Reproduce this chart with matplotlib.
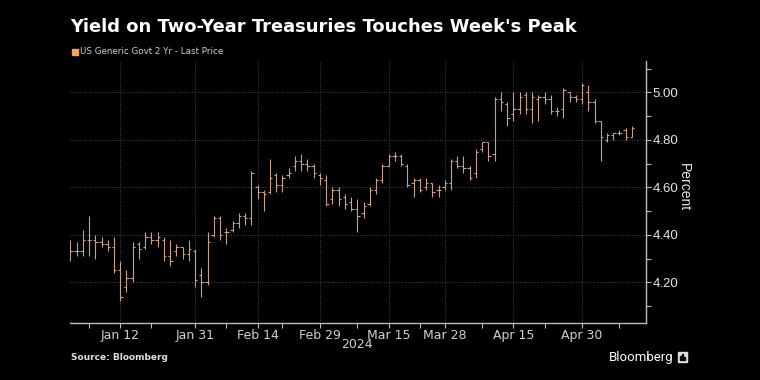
import matplotlib
matplotlib.use("Agg")
import matplotlib.pyplot as plt
from matplotlib.patches import Rectangle
import numpy as np
import pandas as pd

# trading days Jan 2 - May 10, 2024 (bond market holidays removed)
holidays = ["2024-01-15", "2024-02-19", "2024-03-29"]
dates = pd.bdate_range("2024-01-02", "2024-05-10")
dates = dates[~dates.isin(pd.to_datetime(holidays))]

opens = [4.32, 4.33, 4.33, 4.38, 4.38, 4.37, 4.36, 4.35, 4.25, 4.18,
         4.22, 4.36, 4.35, 4.39, 4.38, 4.38, 4.31, 4.33, 4.35, 4.32,
         4.33, 4.23, 4.20, 4.40, 4.47, 4.41, 4.42, 4.45, 4.48, 4.47,
         4.60, 4.58, 4.58, 4.65, 4.61, 4.65, 4.69, 4.71, 4.70, 4.69,
         4.65, 4.63, 4.55, 4.59, 4.56, 4.54, 4.51, 4.49, 4.53, 4.59,
         4.63, 4.69, 4.73, 4.73, 4.69, 4.62, 4.63, 4.60, 4.62, 4.59,
         4.60, 4.62, 4.71, 4.69, 4.68, 4.66, 4.76, 4.79, 4.74, 4.97,
         4.95, 4.91, 4.93, 4.99, 4.93, 4.97, 4.98, 4.97, 4.92, 4.93,
         5.00, 4.98, 4.97, 5.00, 4.96, 4.88, 4.80, 4.82, 4.83, 4.84,
         4.81]
highs = [4.38, 4.37, 4.42, 4.48, 4.40, 4.39, 4.38, 4.39, 4.29, 4.25,
         4.37, 4.37, 4.41, 4.41, 4.41, 4.39, 4.38, 4.36, 4.35, 4.38,
         4.34, 4.26, 4.41, 4.48, 4.48, 4.43, 4.46, 4.49, 4.49, 4.67,
         4.61, 4.59, 4.72, 4.66, 4.65, 4.68, 4.73, 4.74, 4.72, 4.70,
         4.66, 4.65, 4.60, 4.60, 4.57, 4.56, 4.55, 4.54, 4.60, 4.64,
         4.70, 4.74, 4.75, 4.74, 4.70, 4.64, 4.64, 4.64, 4.62, 4.61,
         4.63, 4.72, 4.73, 4.73, 4.69, 4.76, 4.79, 4.79, 4.98, 5.00,
         4.96, 5.00, 5.00, 5.00, 5.00, 4.99, 5.00, 4.99, 4.94, 5.02,
         5.00, 4.99, 5.04, 5.03, 4.97, 4.88, 4.83, 4.83, 4.84, 4.85,
         4.86]
lows = [4.29, 4.31, 4.31, 4.31, 4.30, 4.35, 4.33, 4.24, 4.12, 4.16,
        4.20, 4.30, 4.34, 4.36, 4.35, 4.29, 4.27, 4.31, 4.30, 4.29,
        4.18, 4.14, 4.19, 4.39, 4.38, 4.36, 4.41, 4.43, 4.44, 4.44,
        4.55, 4.50, 4.57, 4.58, 4.58, 4.64, 4.67, 4.67, 4.67, 4.64,
        4.61, 4.52, 4.53, 4.52, 4.51, 4.50, 4.41, 4.47, 4.52, 4.57,
        4.62, 4.69, 4.71, 4.69, 4.60, 4.56, 4.58, 4.59, 4.56, 4.56,
        4.59, 4.59, 4.68, 4.66, 4.63, 4.64, 4.75, 4.71, 4.71, 4.92,
        4.86, 4.88, 4.91, 4.91, 4.87, 4.88, 4.95, 4.91, 4.90, 4.89,
        4.96, 4.96, 4.95, 4.92, 4.87, 4.71, 4.79, 4.80, 4.82, 4.80,
        4.81]
closes = [4.33, 4.33, 4.38, 4.38, 4.37, 4.36, 4.35, 4.25, 4.14, 4.22,
          4.35, 4.34, 4.39, 4.38, 4.39, 4.31, 4.29, 4.35, 4.32, 4.34,
          4.21, 4.20, 4.37, 4.47, 4.40, 4.41, 4.45, 4.48, 4.47, 4.66,
          4.58, 4.57, 4.64, 4.61, 4.64, 4.66, 4.71, 4.70, 4.69, 4.66,
          4.64, 4.53, 4.59, 4.55, 4.53, 4.51, 4.48, 4.52, 4.59, 4.63,
          4.69, 4.73, 4.73, 4.70, 4.61, 4.63, 4.59, 4.62, 4.58, 4.59,
          4.62, 4.71, 4.69, 4.68, 4.64, 4.75, 4.79, 4.73, 4.97, 4.96,
          4.89, 4.93, 4.98, 4.93, 4.98, 4.98, 4.97, 4.92, 4.92, 5.01,
          4.98, 4.97, 5.03, 4.96, 4.88, 4.81, 4.82, 4.83, 4.83, 4.81,
          4.85]

label_dates = ["2024-01-12", "2024-01-31", "2024-02-14", "2024-02-29",
               "2024-03-15", "2024-03-28", "2024-04-15", "2024-04-30"]
minor_dates = ["2024-01-05", "2024-01-22", "2024-02-07", "2024-02-21",
               "2024-03-08", "2024-03-22", "2024-04-08", "2024-04-22",
               "2024-05-08"]
y_ticks = [4.20, 4.40, 4.60, 4.80, 5.00]

bg = "#000000"
bar_col = "#c9a08a"
fg = "#e6e6e6"

fig = plt.figure(figsize=(7.6, 3.8), dpi=100, facecolor=bg)
ax = fig.add_axes([0.0921, 0.1508, 0.8496 - 0.0921, 0.8395 - 0.1508])
ax.set_facecolor(bg)

x = np.arange(len(dates))
w = 0.38
ax.vlines(x, lows, highs, color=bar_col, lw=0.8)
ax.hlines(opens, x - w, x, color=bar_col, lw=0.8)
ax.hlines(closes, x, x + w, color=bar_col, lw=0.8)

ax.set_xlim(-0.05, 92.2)
ax.set_ylim(4.03, 5.132)

pos = {d: i for i, d in enumerate(dates.strftime("%Y-%m-%d"))}
ax.set_xticks([pos[d] for d in label_dates])
ax.set_xticklabels([pd.Timestamp(d).strftime("%b %d").replace(" 0", " ") for d in label_dates])
ax.set_xticks([pos[d] for d in minor_dates], minor=True)

ax.yaxis.tick_right()
ax.set_yticks(y_ticks)
ax.set_yticklabels([f"{v:.2f}" for v in y_ticks], family="Liberation Sans")
ax.set_yticks(np.arange(4.1, 5.15, 0.2), minor=True)

for s in ["left", "top"]:
    ax.spines[s].set_visible(False)
for s in ["right", "bottom"]:
    ax.spines[s].set_color("#bdbdbd")
    ax.spines[s].set_linewidth(1.0)

ax.tick_params(axis="both", which="both", colors="#bdbdbd", direction="out", length=3.5, width=0.8)
ax.tick_params(axis="x", labelcolor="#d0d0d0", labelsize=9, pad=1)
ax.tick_params(axis="y", labelcolor=fg, labelsize=9.5, pad=1.5)

ax.grid(True, which="major", color="#444444", linestyle=(0, (1, 1.5)), linewidth=0.7)

fig.text(684 / 760, 1 - 187 / 380, "Percent", color=fg, fontsize=10,
         family="Liberation Sans", rotation=270, ha="center", va="center")
fig.text(70 / 760, 1 - 27 / 380, "Yield on Two-Year Treasuries Touches Week's Peak",
         color="white", fontsize=12.9, fontweight="bold", va="center", ha="left")
fig.patches.append(Rectangle((72 / 760, 1 - 55 / 380), 6 / 760, 6 / 380,
                             transform=fig.transFigure, color="#f4a45c"))
fig.text(80 / 760, 1 - 52 / 380, "US Generic Govt 2 Yr - Last Price",
         color="#cfcfcf", fontsize=6.3, va="center", ha="left")
fig.text(357 / 760, 1 - 344 / 380, "2024", color="#d0d0d0", fontsize=9,
         ha="center", va="center")
fig.text(71 / 760, 1 - 358 / 380, "Source: Bloomberg", color="#e0e0e0",
         fontsize=6.5, fontweight="bold", va="center", ha="left")
fig.text(673 / 760, 1 - 357 / 380, "Bloomberg", color="white", fontsize=9.5,
         family="Roboto", va="center", ha="right")
fig.patches.append(Rectangle((678 / 760, 1 - 362 / 380), 9 / 760, 10 / 380,
                             transform=fig.transFigure, color="#dddddd"))
for k, hgt in enumerate([4, 6, 3]):
    fig.patches.append(Rectangle(((680 + 2 * k) / 760, 1 - 360 / 380), 1 / 760, hgt / 380,
                                 transform=fig.transFigure, color="#000000"))

fig.savefig("out.png", dpi=100, facecolor=bg)
